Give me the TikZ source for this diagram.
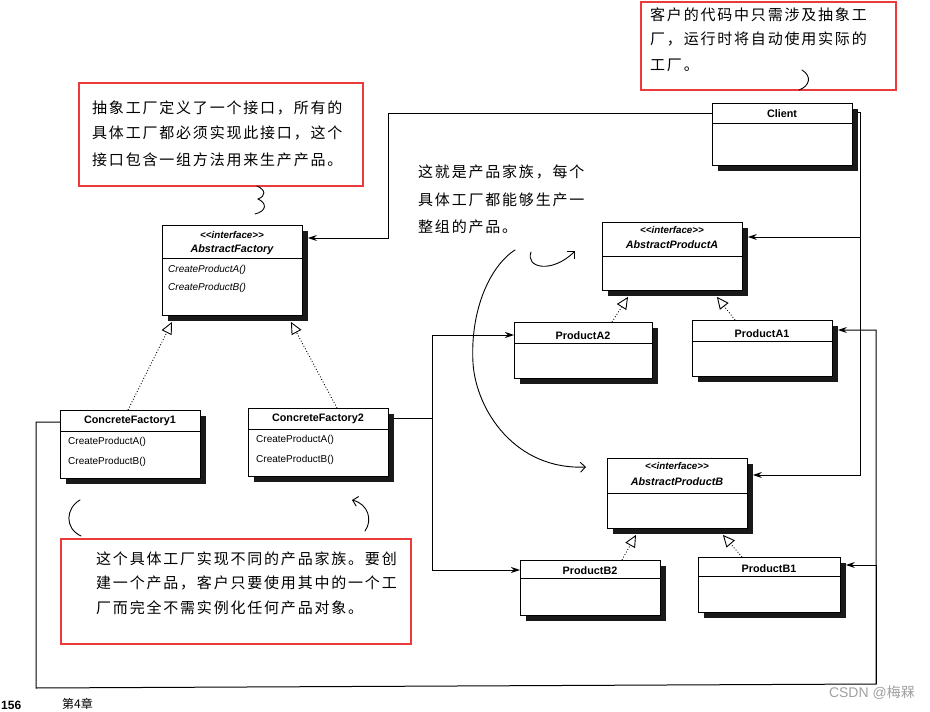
\documentclass[tikz,border=0pt]{standalone}
\usepackage{fontspec}
\setmainfont{Liberation Sans}
\newfontfamily\cjk{Noto Sans CJK SC}[LetterSpace=12.0]
\newfontfamily\cjkplain{Noto Sans CJK SC}
\usetikzlibrary{arrows.meta,shadows}
\definecolor{notered}{RGB}{236,58,58}
\definecolor{wmgray}{RGB}{160,160,160}
\newcommand{\stereotxt}{<{}<interface>{}>}
\begin{document}
\begin{tikzpicture}[x=1pt,y=-1pt,
  cls/.style={draw, line width=0.9pt, fill=white, anchor=north west, inner sep=0pt,
    drop shadow={shadow xshift=5.5pt, shadow yshift=-5.5pt, fill=black!90, opacity=1}},
  div/.style={line width=0.8pt},
  cname/.style={font=\fontsize{10.8}{12}\selectfont\bfseries, inner sep=0pt},
  iname/.style={font=\fontsize{10.8}{12}\selectfont\bfseries\itshape, inner sep=0pt},
  stereo/.style={font=\fontsize{9.8}{11}\selectfont\bfseries\itshape, inner sep=0pt},
  meth/.style={font=\fontsize{10}{11}\selectfont, inner sep=0pt, anchor=west},
  imeth/.style={font=\fontsize{10}{11}\selectfont\itshape, inner sep=0pt, anchor=west},
  arr/.style={line width=1pt, -{Stealth[length=9pt,width=6pt]}},
  real/.style={line width=0.9pt, dotted, -{Triangle[open,length=12pt,width=11pt,line width=0.9pt]}},
  note/.style={draw=notered, line width=2.4pt, anchor=north west, inner sep=0pt},
  hw/.style={font=\cjk\fontsize{15}{18}\selectfont, anchor=west, inner sep=0pt},
  hand/.style={line width=0.9pt, line cap=round},
  handarr/.style={line width=0.9pt, line cap=round, -{Straight Barb[length=5pt,width=10pt]}}
]
\useasboundingbox (0,0) rectangle (930,712);

% ---------- class boxes ----------
\node[cls, minimum width=140pt, minimum height=90pt] (af) at (162,225) {};
\node[cls, minimum width=140pt, minimum height=62pt] (client) at (712,103) {};
\node[cls, minimum width=140pt, minimum height=68pt] (apa) at (602,222) {};
\node[cls, minimum width=138pt, minimum height=56pt] (pa2) at (514,322) {};
\node[cls, minimum width=140pt, minimum height=56pt] (pa1) at (692,320) {};
\node[cls, minimum width=140pt, minimum height=70pt] (apb) at (607,458) {};
\node[cls, minimum width=140pt, minimum height=55pt] (pb2) at (520,560) {};
\node[cls, minimum width=142pt, minimum height=55pt] (pb1) at (698,557) {};
\node[cls, minimum width=140pt, minimum height=68pt] (cf1) at (60,410) {};
\node[cls, minimum width=140pt, minimum height=68pt] (cf2) at (248,408) {};

% dividers
\draw[div] ([yshift=-33pt]af.north west) -- ([yshift=-33pt]af.north east);
\draw[div] ([yshift=-20pt]client.north west) -- ([yshift=-20pt]client.north east);
\draw[div] ([yshift=-34pt]apa.north west) -- ([yshift=-34pt]apa.north east);
\draw[div] ([yshift=-21pt]pa2.north west) -- ([yshift=-21pt]pa2.north east);
\draw[div] ([yshift=-21pt]pa1.north west) -- ([yshift=-21pt]pa1.north east);
\draw[div] ([yshift=-35pt]apb.north west) -- ([yshift=-35pt]apb.north east);
\draw[div] ([yshift=-18pt]pb2.north west) -- ([yshift=-18pt]pb2.north east);
\draw[div] ([yshift=-19pt]pb1.north west) -- ([yshift=-19pt]pb1.north east);
\draw[div] ([yshift=-21pt]cf1.north west) -- ([yshift=-21pt]cf1.north east);
\draw[div] ([yshift=-21pt]cf2.north west) -- ([yshift=-21pt]cf2.north east);

% class texts
\node[stereo] (afst) at (232,235) {\stereotxt};
\node[iname] (afnm) at (232,250) {AbstractFactory};
\node[imeth] (afm1) at (168,270) {CreateProductA()};
\node[imeth] (afm2) at (168,288) {CreateProductB()};
\node[cname] (clnm) at (782,114) {Client};
\node[stereo] (apast) at (672,230) {\stereotxt};
\node[iname] (apanm) at (672,245) {AbstractProductA};
\node[cname] (pa2nm) at (583,336) {ProductA2};
\node[cname] (pa1nm) at (762,334) {ProductA1};
\node[stereo] (apbst) at (677,466) {\stereotxt};
\node[iname] (apbnm) at (677,482) {AbstractProductB};
\node[cname] (pb2nm) at (590,571) {ProductB2};
\node[cname] (pb1nm) at (769,569) {ProductB1};
\node[cname] (cf1nm) at (130,421) {ConcreteFactory1};
\node[meth] (cf1m1) at (68,442) {CreateProductA()};
\node[meth] (cf1m2) at (68,462) {CreateProductB()};
\node[cname] (cf2nm) at (318,419) {ConcreteFactory2};
\node[meth] (cf2m1) at (256,440) {CreateProductA()};
\node[meth] (cf2m2) at (256,460) {CreateProductB()};

% ---------- realization (dotted, open triangle) ----------
\draw[real] ([xshift=68pt]cf1.north west) -- ([xshift=10pt,yshift=-6pt]af.south west);
\draw[real] ([xshift=89pt]cf2.north west) -- ([xshift=-12pt,yshift=-6pt]af.south east);
\draw[real] ([xshift=98pt]pa2.north west) -- ([xshift=26pt,yshift=-6pt]apa.south west);
\draw[real] ([xshift=43pt]pa1.north west) -- ([xshift=-26pt,yshift=-6pt]apa.south east);
\draw[real] ([xshift=102pt]pb2.north west) -- ([xshift=29pt,yshift=-6pt]apb.south west);
\draw[real] ([xshift=44pt]pb1.north west) -- ([xshift=-25pt,yshift=-6pt]apb.south east);

% ---------- associations ----------
\draw[arr] ([yshift=-10pt]client.north west) -- ++(-324,0) |- ([xshift=5pt,yshift=-13pt]af.north east);
\draw[arr] ([xshift=5pt,yshift=-9pt]client.north east) -- ++(3,0) coordinate (jc) |- ([xshift=5pt,yshift=-15pt]apa.north east);
\draw[arr] (jc) |- ([xshift=5pt,yshift=-17pt]apb.north east);

\coordinate (fl) at (36,688);
\coordinate (fr) at (876,684);
\draw[arr] ([yshift=-12pt]cf1.north west) -| (fl) -- (fr) |- ([xshift=5pt,yshift=-10pt]pa1.north east);
\draw[arr] (fr) |- ([xshift=5pt,yshift=-8pt]pb1.north east);

\draw[line width=1pt] ([xshift=5pt,yshift=-10pt]cf2.north east) -- ++(39,0) coordinate (j2);
\draw[arr] (j2) |- ([yshift=-13pt]pa2.north west);
\draw[arr] (j2) |- ([yshift=-10pt]pb2.north west);

% ---------- red notes ----------
\node[note, minimum width=255pt, minimum height=88pt] (n1) at (640,1) {};
\node[hw] (n1a) at (650,15) {客户的代码中只需涉及抽象工};
\node[hw] (n1b) at (650,39) {厂，运行时将自动使用实际的};
\node[hw] (n1c) at (650,65) {工厂。};

\node[note, minimum width=284pt, minimum height=103pt] (n2) at (78,82) {};
\node[hw] (n2a) at (92,108) {抽象工厂定义了一个接口，所有的};
\node[hw] (n2b) at (92,133) {具体工厂都必须实现此接口，这个};
\node[hw] (n2c) at (92,160) {接口包含一组方法用来生产产品。};

\node[hw] (n3a) at (418,172) {这就是产品家族，每个};
\node[hw] (n3b) at (418,200) {具体工厂都能够生产一};
\node[hw] (n3c) at (418,227) {整组的产品。};

\node[note, minimum width=350pt, minimum height=105pt] (n4) at (60,538) {};
\node[hw] (n4a) at (96,559) {这个具体工厂实现不同的产品家族。要创};
\node[hw] (n4b) at (96,583) {建一个产品，客户只要使用其中的一个工};
\node[hw] (n4c) at (96,608) {厂而完全不需实例化任何产品对象。};

% ---------- hand-drawn marks ----------
\draw[hand] (802,70) .. controls (812,76) and (810,86) .. (799,90);
\draw[hand] (257,186) .. controls (266,190) and (266,196) .. (258,199) .. controls (267,203) and (267,211) .. (255,214);
\draw[handarr] (515,250) .. controls (490,266) and (470,310) .. (473,363) .. controls (476,410) and (515,470) .. (586,467);
\draw[handarr] (531,252) .. controls (525,268) and (552,274) .. (575,251);
\draw[hand] (80,500) .. controls (66,508) and (64,528) .. (81,536);
\draw[handarr] (365,531) .. controls (373,520) and (368,504) .. (352,500);

% ---------- page remnants ----------
\node[font=\fontsize{12}{14}\selectfont\bfseries, anchor=south west, inner sep=0pt] (pg) at (1,710) {156};
\node[font=\cjkplain\fontsize{12}{14}\selectfont, anchor=south west, inner sep=0pt] (ch) at (62,710) {第4章};
\node[font=\fontsize{14}{16}\selectfont, text=wmgray, anchor=east, inner sep=0pt] (wm) at (915,693) {CSDN @{\cjkplain 梅槑}};
\end{tikzpicture}
\end{document}
